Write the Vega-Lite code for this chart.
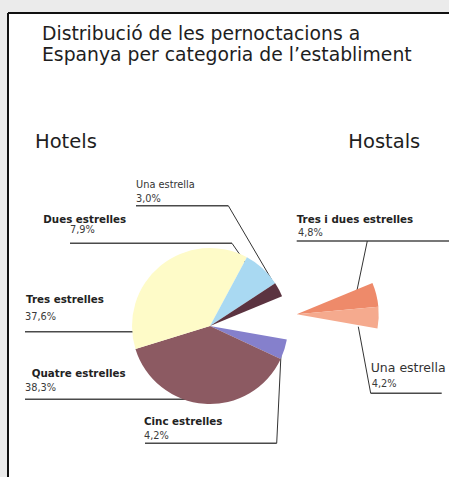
{
  "$schema": "https://vega.github.io/schema/vega-lite/v6.json",
  "width": 441,
  "height": 464,
  "autosize": "none",
  "padding": {"left": 8, "top": 13, "right": 0, "bottom": 0},
  "background": "#ebebeb",
  "config": {
    "view": {"fill": "white", "stroke": null}
  },
  "datasets": {
    "porcions": [
      {"grup": "Hostals", "clau": "Hostals - Tres i dues estrelles", "categoria": "Tres i dues estrelles", "pct": 4.8},
      {"grup": "Hostals", "clau": "Hostals - Una estrella", "categoria": "Una estrella", "pct": 4.2},
      {"grup": "Hotels", "clau": "Hotels - Cinc estrelles", "categoria": "Cinc estrelles", "pct": 4.2},
      {"grup": "Hotels", "clau": "Hotels - Quatre estrelles", "categoria": "Quatre estrelles", "pct": 38.3},
      {"grup": "Hotels", "clau": "Hotels - Tres estrelles", "categoria": "Tres estrelles", "pct": 37.6},
      {"grup": "Hotels", "clau": "Hotels - Dues estrelles", "categoria": "Dues estrelles", "pct": 7.9},
      {"grup": "Hotels", "clau": "Hotels - Una estrella", "categoria": "Una estrella", "pct": 3.0}
    ],
    "marc": [
      {"x": 8, "y": 13, "x2": 449, "y2": 13},
      {"x": 8, "y": 13, "x2": 8, "y2": 477}
    ],
    "subratllats": [
      {"x": 136, "y": 205.7, "x2": 228.3, "y2": 205.7},
      {"x": 70, "y": 243.3, "x2": 232, "y2": 243.3},
      {"x": 25, "y": 331.7, "x2": 133.3, "y2": 331.7},
      {"x": 25, "y": 399.3, "x2": 190, "y2": 399.3},
      {"x": 145, "y": 443.3, "x2": 276.7, "y2": 443.3},
      {"x": 296.7, "y": 241, "x2": 449, "y2": 241},
      {"x": 370.7, "y": 393.3, "x2": 441.7, "y2": 393.3}
    ],
    "guies": [
      {"x": 228.3, "y": 205.7, "x2": 276.7, "y2": 288.3},
      {"x": 232, "y": 243.3, "x2": 251.7, "y2": 271.7},
      {"x": 276.7, "y": 443.3, "x2": 281.7, "y2": 340},
      {"x": 367.3, "y": 241, "x2": 356, "y2": 295},
      {"x": 358.3, "y": 326.7, "x2": 370.7, "y2": 393.3}
    ],
    "textos": [
      {"text": "Distribució de les pernoctacions a", "x": 42, "y": 39.5, "tipus": "titol"},
      {"text": "Espanya per categoria de l’establiment", "x": 42, "y": 61, "tipus": "titol"},
      {"text": "Hotels", "x": 35, "y": 148.3, "tipus": "capcal"},
      {"text": "Hostals", "x": 348.3, "y": 148.3, "tipus": "capcal"},
      {"text": "Dues estrelles", "x": 43.3, "y": 222.5, "tipus": "nom"},
      {"text": "Tres estrelles", "x": 26, "y": 302.7, "tipus": "nom"},
      {"text": "Quatre estrelles", "x": 31.7, "y": 376.7, "tipus": "nom"},
      {"text": "Cinc estrelles", "x": 144, "y": 425, "tipus": "nom"},
      {"text": "Tres i dues estrelles", "x": 296.7, "y": 223.3, "tipus": "nom"},
      {"text": "Una estrella", "x": 136, "y": 188.3, "tipus": "nom_fi"},
      {"text": "Una estrella", "x": 370.7, "y": 371.7, "tipus": "nom_gran"},
      {"text": "3,0%", "x": 136, "y": 202, "tipus": "pct"},
      {"text": "7,9%", "x": 70, "y": 233, "tipus": "pct"},
      {"text": "37,6%", "x": 25, "y": 320, "tipus": "pct"},
      {"text": "38,3%", "x": 25, "y": 390.5, "tipus": "pct"},
      {"text": "4,2%", "x": 144, "y": 439, "tipus": "pct"},
      {"text": "4,8%", "x": 298, "y": 236, "tipus": "pct"},
      {"text": "4,2%", "x": 371.7, "y": 387, "tipus": "pct"}
    ]
  },
  "resolve": {"scale": {"x": "independent", "y": "independent"}, "axis": {"x": "independent", "y": "independent"}},
  "layer": [
    {
      "layer": [
        {
          "data": {"name": "marc"},
          "mark": {"type": "rule", "color": "#111111", "strokeWidth": 2},
          "encoding": {
            "x": {"field": "x", "type": "quantitative", "scale": {"domain": [8, 449], "nice": false, "zero": false}, "axis": null},
            "y": {"field": "y", "type": "quantitative", "scale": {"domain": [13, 477], "nice": false, "zero": false, "reverse": true}, "axis": null},
            "x2": {"field": "x2"},
            "y2": {"field": "y2"}
          }
        },
        {
          "data": {"name": "subratllats"},
          "mark": {"type": "rule", "color": "#4a4a4a", "strokeWidth": 1.6},
          "encoding": {
            "x": {"field": "x", "type": "quantitative", "scale": {"domain": [8, 449], "nice": false, "zero": false}, "axis": null},
            "y": {"field": "y", "type": "quantitative", "scale": {"domain": [13, 477], "nice": false, "zero": false, "reverse": true}, "axis": null},
            "x2": {"field": "x2"},
            "y2": {"field": "y2"}
          }
        },
        {
          "data": {"name": "guies"},
          "mark": {"type": "rule", "color": "#333333", "strokeWidth": 1},
          "encoding": {
            "x": {"field": "x", "type": "quantitative", "scale": {"domain": [8, 449], "nice": false, "zero": false}, "axis": null},
            "y": {"field": "y", "type": "quantitative", "scale": {"domain": [13, 477], "nice": false, "zero": false, "reverse": true}, "axis": null},
            "x2": {"field": "x2"},
            "y2": {"field": "y2"}
          }
        },
        {
          "data": {"name": "textos"},
          "transform": [{"filter": "datum.tipus === 'titol'"}],
          "mark": {"type": "text", "align": "left", "baseline": "alphabetic", "font": "DejaVu Sans", "fontSize": 18.8, "color": "#1e1e1e"},
          "encoding": {
            "x": {"field": "x", "type": "quantitative", "scale": {"domain": [8, 449], "nice": false, "zero": false}, "axis": null},
            "y": {"field": "y", "type": "quantitative", "scale": {"domain": [13, 477], "nice": false, "zero": false, "reverse": true}, "axis": null},
            "text": {"field": "text"}
          }
        },
        {
          "data": {"name": "textos"},
          "transform": [{"filter": "datum.tipus === 'capcal'"}],
          "mark": {"type": "text", "align": "left", "baseline": "alphabetic", "font": "DejaVu Sans", "fontSize": 19.5, "color": "#1e1e1e"},
          "encoding": {
            "x": {"field": "x", "type": "quantitative", "scale": {"domain": [8, 449], "nice": false, "zero": false}, "axis": null},
            "y": {"field": "y", "type": "quantitative", "scale": {"domain": [13, 477], "nice": false, "zero": false, "reverse": true}, "axis": null},
            "text": {"field": "text"}
          }
        },
        {
          "data": {"name": "textos"},
          "transform": [{"filter": "datum.tipus === 'nom'"}],
          "mark": {"type": "text", "align": "left", "baseline": "alphabetic", "font": "DejaVu Sans", "fontWeight": "bold", "fontSize": 10.3, "color": "#222222"},
          "encoding": {
            "x": {"field": "x", "type": "quantitative", "scale": {"domain": [8, 449], "nice": false, "zero": false}, "axis": null},
            "y": {"field": "y", "type": "quantitative", "scale": {"domain": [13, 477], "nice": false, "zero": false, "reverse": true}, "axis": null},
            "text": {"field": "text"}
          }
        },
        {
          "data": {"name": "textos"},
          "transform": [{"filter": "datum.tipus === 'nom_fi'"}],
          "mark": {"type": "text", "align": "left", "baseline": "alphabetic", "font": "DejaVu Sans", "fontSize": 9.8, "color": "#333333"},
          "encoding": {
            "x": {"field": "x", "type": "quantitative", "scale": {"domain": [8, 449], "nice": false, "zero": false}, "axis": null},
            "y": {"field": "y", "type": "quantitative", "scale": {"domain": [13, 477], "nice": false, "zero": false, "reverse": true}, "axis": null},
            "text": {"field": "text"}
          }
        },
        {
          "data": {"name": "textos"},
          "transform": [{"filter": "datum.tipus === 'nom_gran'"}],
          "mark": {"type": "text", "align": "left", "baseline": "alphabetic", "font": "DejaVu Sans", "fontSize": 12.5, "color": "#333333"},
          "encoding": {
            "x": {"field": "x", "type": "quantitative", "scale": {"domain": [8, 449], "nice": false, "zero": false}, "axis": null},
            "y": {"field": "y", "type": "quantitative", "scale": {"domain": [13, 477], "nice": false, "zero": false, "reverse": true}, "axis": null},
            "text": {"field": "text"}
          }
        },
        {
          "data": {"name": "textos"},
          "transform": [{"filter": "datum.tipus === 'pct'"}],
          "mark": {"type": "text", "align": "left", "baseline": "alphabetic", "font": "DejaVu Sans", "fontSize": 9.8, "color": "#3a3a3a"},
          "encoding": {
            "x": {"field": "x", "type": "quantitative", "scale": {"domain": [8, 449], "nice": false, "zero": false}, "axis": null},
            "y": {"field": "y", "type": "quantitative", "scale": {"domain": [13, 477], "nice": false, "zero": false, "reverse": true}, "axis": null},
            "text": {"field": "text"}
          }
        }
      ]
    },
    {
      "data": {"name": "porcions"},
      "transform": [{"stack": "pct", "groupby": [], "as": ["t0", "t1"]}],
      "encoding": {
        "x": {"field": "grup", "type": "nominal", "scale": {"type": "point", "domain": ["Hotels", "Hostals"], "range": [202, 288.7], "padding": 0}, "axis": null},
        "y": {"field": "grup", "type": "nominal", "scale": {"type": "point", "domain": ["Hotels", "Hostals"], "range": [313, 301.3], "padding": 0}, "axis": null},
        "theta": {"field": "t0", "type": "quantitative", "stack": null, "scale": {"domain": [0, 100], "range": [1.1781, 7.4613]}},
        "theta2": {"field": "t1"},
        "color": {
          "field": "clau", "type": "nominal", "legend": null,
          "scale": {
            "domain": ["Hostals - Tres i dues estrelles", "Hostals - Una estrella", "Hotels - Cinc estrelles", "Hotels - Quatre estrelles", "Hotels - Tres estrelles", "Hotels - Dues estrelles", "Hotels - Una estrella"],
            "range": ["#ee8a6a", "#f5aa8e", "#8580cc", "#8c5a62", "#fefbc8", "#a9d9f2", "#5b3340"]
          }
        }
      },
      "layer": [
        {"transform": [{"filter": "datum.grup === 'Hotels'"}], "mark": {"type": "arc", "outerRadius": 78}},
        {"transform": [{"filter": "datum.grup === 'Hostals'"}], "mark": {"type": "arc", "outerRadius": 82}}
      ]
    }
  ]
}
